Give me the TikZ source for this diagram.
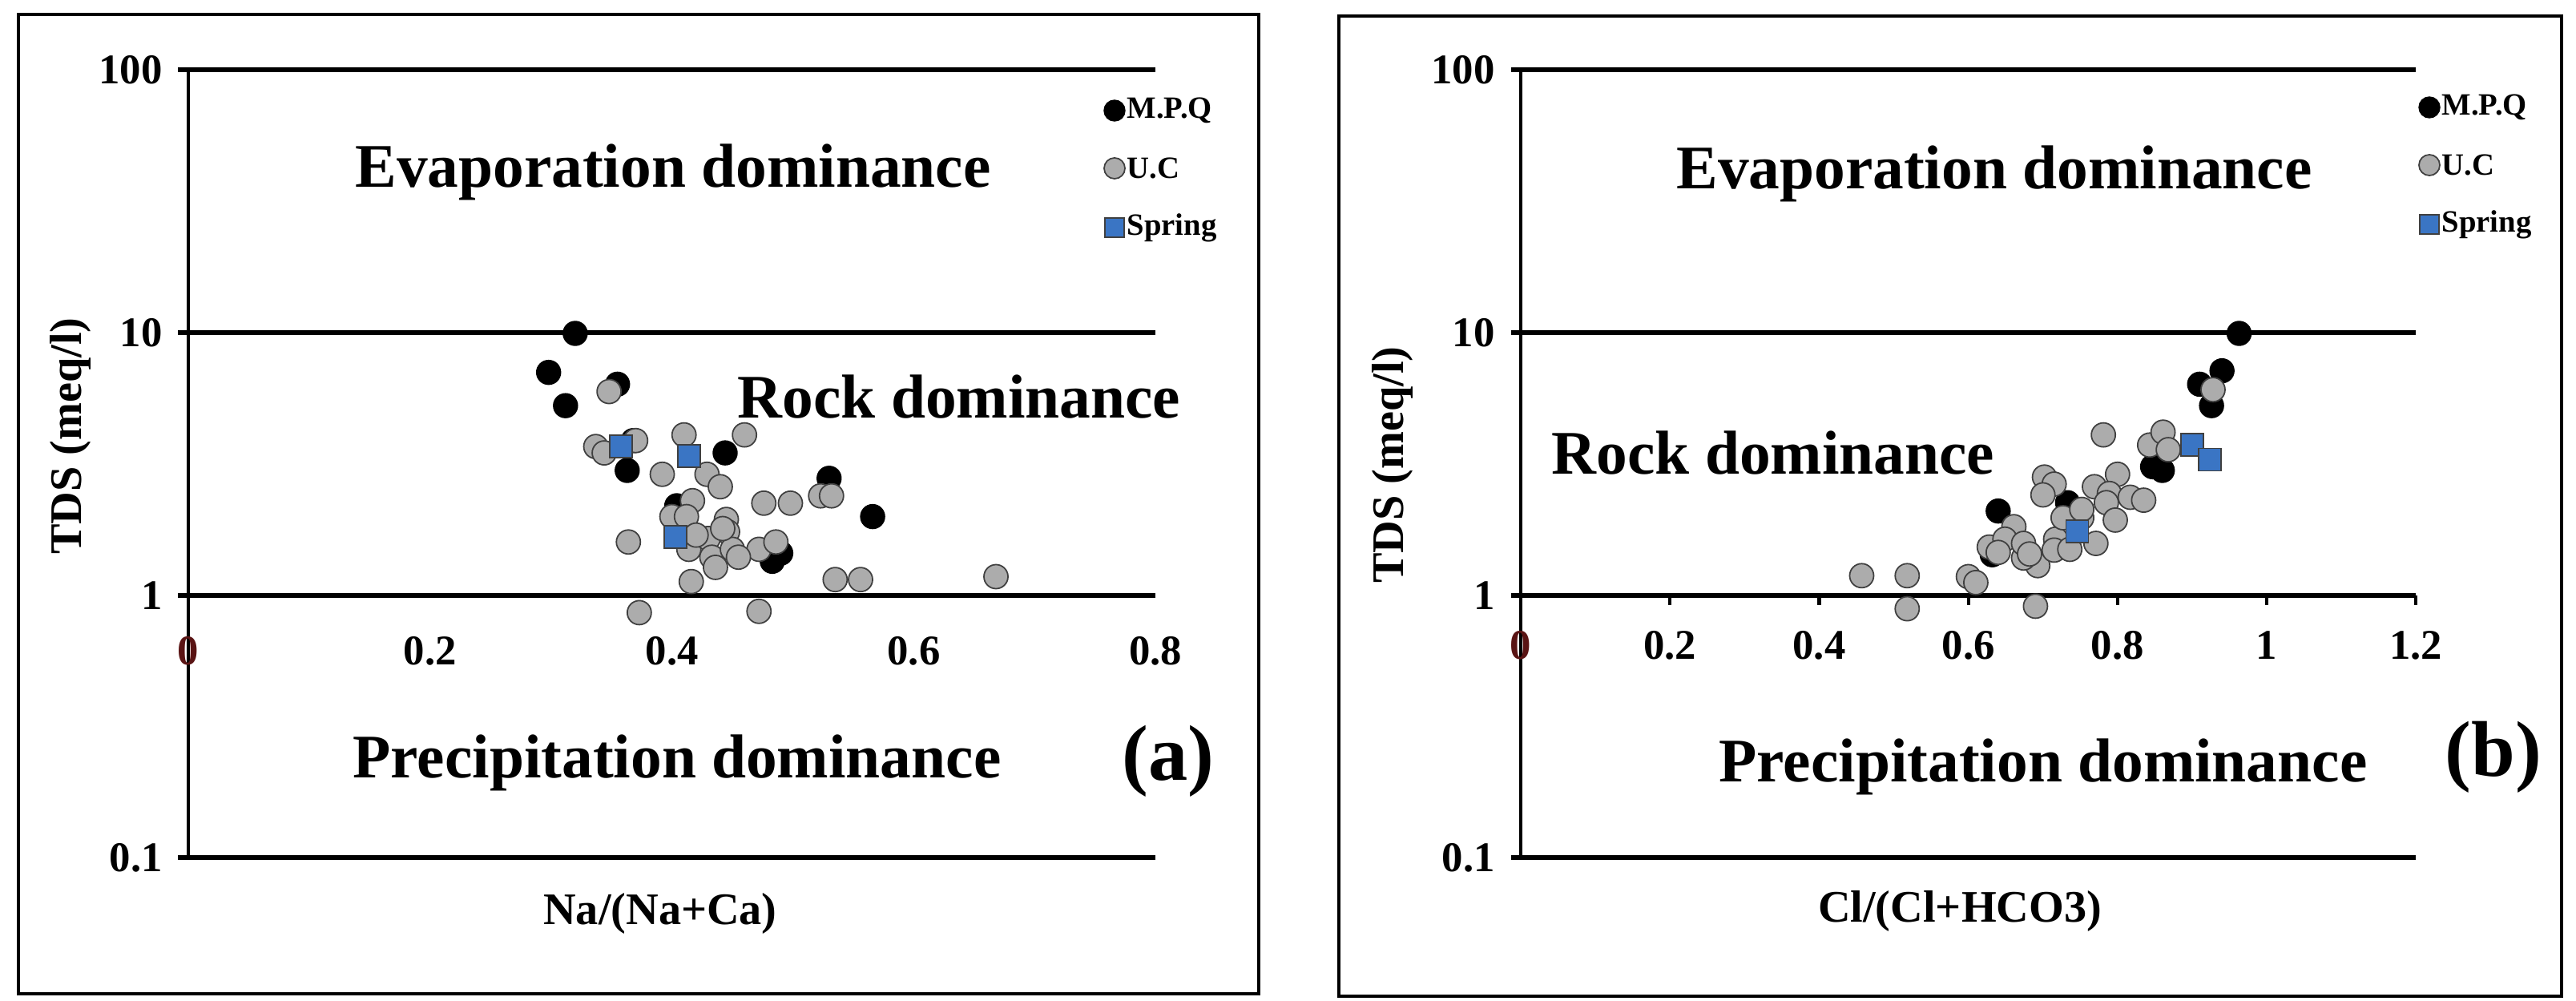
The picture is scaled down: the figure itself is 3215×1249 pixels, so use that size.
\documentclass[tikz,border=0pt]{standalone}
\usepackage{fontspec}
\setmainfont{Liberation Serif}
\begin{document}
\begin{tikzpicture}[x=0.01cm,y=-0.01cm,
  big/.style={font=\fontsize{22}{24}\selectfont\bfseries},
  tick/.style={font=\fontsize{15}{17}\selectfont\bfseries},
  lab/.style={font=\fontsize{16}{18}\selectfont\bfseries},
  leg/.style={font=\fontsize{11}{12}\selectfont\bfseries, anchor=west, inner sep=0pt},
  pan/.style={font=\fontsize{28}{30}\selectfont\bfseries},
  frm/.style={line width=1.1pt},
  gl/.style={line width=1.6pt},
  mpq/.style={circle, fill=black, draw=black, minimum size=0.3cm, inner sep=0pt},
  uc/.style={circle, fill=gray!65, draw=black!75, line width=0.5pt, minimum size=0.3cm, inner sep=0pt},
  spr/.style={rectangle, fill={rgb,255:red,58;green,117;blue,196}, draw=black!75, line width=0.5pt, minimum size=0.28cm, inner sep=0pt}]
\useasboundingbox (0,0) rectangle (3215,1249);
\fill[white] (0,0) rectangle (3215,1249);
% ---------- panel a ----------
\draw[frm] (23,18) rectangle (1571,1240);
\foreach \yy in {87,415,743,1070} \draw[gl] (222,\yy) -- (1442,\yy);
\draw[line width=1.2pt] (235,87) -- (235,1070);
\node[tick,anchor=east] (a100) at (215,87) {100};
\node[tick,anchor=east] (a10) at (215,415) {10};
\node[tick,anchor=east] (a1) at (215,743) {1};
\node[tick,anchor=east] (a01) at (215,1070) {0.1};
\node[tick,text={rgb,255:red,90;green,20;blue,20}] (a0) at (235,812) {0};
\foreach \d [count=\i] in {0.2,0.4,0.6,0.8} \node[tick] (ax\i) at ({235+1509*\d},812) {\d};
\node[lab] (axl) at (824,1140) {Na/(Na+Ca)};
\node[lab,rotate=90] (ayl) at (88,544) {TDS (meq/l)};
\node[big] (aev) at (840,215) {Evaporation dominance};
\node[big] (arock) at (1197,495) {Rock dominance};
\node[big] (apre) at (845,952) {Precipitation dominance};
\node[pan] (apan) at (1458,950) {(a)};
\node[mpq,minimum size=0.26cm] (alm) at (1391,138) {}; \node[leg] (almt) at (1406,138) {M.P.Q};
\node[uc,minimum size=0.26cm] (alu) at (1391,210) {}; \node[leg] (alut) at (1406,210) {U.C};
\node[spr,minimum size=0.24cm] (als) at (1391,284) {}; \node[leg] (alst) at (1406,284) {Spring};
\foreach \d/\v [count=\i] in {.32/10,.298/7.1,.312/5.3,.355/6.4,.363/3.0,.368/3.9,.444/3.5,.530/2.8,.566/2.0,.483/1.35,.49/1.45,.404/2.2}
  \node[mpq] (am\i) at ({235+1509*\d},{743-327*log10(\v)}) {};
\foreach \d/\v [count=\i] in {.348/6.0,.337/3.7,.344/3.5,.37/3.9,.364/1.6,.373/.86,.392/2.9,.41/4.1,.417/2.3,.40/2.0,.412/2.0,.414/1.5,.416/1.13,.429/2.9,.44/2.6,.46/4.1,.476/2.25,.498/2.25,.523/2.4,.532/2.4,.445/1.95,.446/1.75,.43/1.65,.433/1.4,.45/1.5,.436/1.28,.472/1.5,.486/1.6,.472/.87,.535/1.15,.556/1.15,.668/1.18,.455/1.4,.442/1.8,.420/1.7}
  \node[uc] (au\i) at ({235+1509*\d},{743-327*log10(\v)}) {};
\foreach \d/\v [count=\i] in {.358/3.7,.414/3.4,.403/1.67}
  \node[spr] (as\i) at ({235+1509*\d},{743-327*log10(\v)}) {};
% ---------- panel b ----------
\draw[frm] (1671,20) rectangle (3197,1243);
\foreach \yy in {87,415,743,1070} \draw[gl] (1886,\yy) -- (3015,\yy);
\draw[line width=1.2pt] (1898,87) -- (1898,1070);
\foreach \d in {0.2,0.4,...,1.2} \draw[line width=1.2pt] ({1898+931*\d},743) -- ({1898+931*\d},755);
\node[tick,anchor=east] (b100) at (1878,87) {100};
\node[tick,anchor=east] (b10) at (1878,415) {10};
\node[tick,anchor=east] (b1) at (1878,743) {1};
\node[tick,anchor=east] (b01) at (1878,1070) {0.1};
\node[tick,text={rgb,255:red,90;green,20;blue,20}] (b0) at (1898,805) {0};
\foreach \d/\t [count=\i] in {0.2/0.2,0.4/0.4,0.6/0.6,0.8/0.8,1/1,1.2/1.2} \node[tick] (bx\i) at ({1898+931*\d},805) {\t};
\node[lab] (bxl) at (2446,1137) {Cl/(Cl+HCO3)};
\node[lab,rotate=90] (byl) at (1738,580) {TDS (meq/l)};
\node[big] (bev) at (2489,217) {Evaporation dominance};
\node[big] (brock) at (2213,565) {Rock dominance};
\node[big] (bpre) at (2550,957) {Precipitation dominance};
\node[pan] (bpan) at (3112,945) {(b)};
\node[mpq,minimum size=0.26cm] (blm) at (3032,134) {}; \node[leg] (blmt) at (3047,134) {M.P.Q};
\node[uc,minimum size=0.26cm] (blu) at (3032,206) {}; \node[leg] (blut) at (3047,206) {U.C};
\node[spr,minimum size=0.24cm] (bls) at (3032,280) {}; \node[leg] (blst) at (3047,280) {Spring};
\foreach \d/\v [count=\i] in {.963/10,.94/7.2,.91/6.4,.926/5.3,.847/3.1,.86/3.0,.733/2.26,.64/2.1,.632/1.43}
  \node[mpq] (bm\i) at ({1898+931*\d},{743-327*log10(\v)}) {};
\foreach \d/\v [count=\i] in {.457/1.19,.518/1.19,.518/.89,.60/1.18,.61/1.12,.69/.91,.693/1.3,.674/1.39,.628/1.53,.661/1.83,.649/1.64,.674/1.58,.64/1.46,.682/1.44,.702/2.83,.715/2.66,.70/2.42,.717/1.64,.715/1.49,.736/1.5,.752/1.98,.771/1.58,.769/2.6,.781/4.1,.80/2.9,.789/2.45,.785/2.26,.797/1.94,.817/2.37,.835/2.31,.843/3.75,.861/4.2,.868/3.6,.727/1.98,.752/2.13,.928/6.1}
  \node[uc] (bu\i) at ({1898+931*\d},{743-327*log10(\v)}) {};
\foreach \d/\v [count=\i] in {.9/3.75,.924/3.3,.746/1.76}
  \node[spr] (bs\i) at ({1898+931*\d},{743-327*log10(\v)}) {};
\end{tikzpicture}
\end{document}
